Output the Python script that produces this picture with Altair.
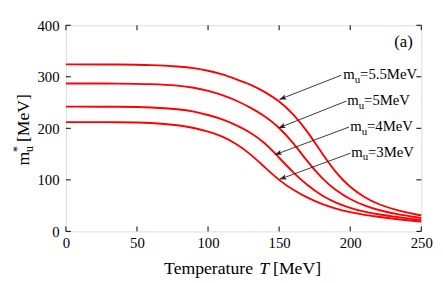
import math
import altair as alt
import pandas as pd

# ---------------- data ----------------
T_GRID = [0, 40, 60, 80, 90, 100, 110, 120, 130, 140, 150, 160, 170, 180, 190, 200, 210, 220, 235, 250]
M_55 = [324, 324, 323, 320, 317, 312, 305, 295, 285, 271, 253, 228, 194, 152, 113, 85, 66, 52, 39, 31]
M_5 = [287, 287, 286, 283, 279, 273, 265, 254, 240, 224, 202, 172, 135, 103, 79, 62, 50, 41, 32, 26]
M_4 = [242, 242, 241, 237, 233, 226, 218, 206, 192, 172, 143, 114, 89, 69, 55, 45, 38, 33, 27, 22]
M_3 = [212, 212, 211, 206, 201, 194, 185, 170, 150, 124, 99, 80, 65, 53, 44, 37, 32, 28, 23, 19]
SERIES = ["5.5MeV", "5MeV", "4MeV", "3MeV"]

X_TICKS = [0, 50, 100, 150, 200, 250]
Y_TICKS = [0, 100, 200, 300, 400]

LABEL_T = [195.1, 197.9, 200.0, 200.7]
LABEL_V = [295.2, 245.7, 194.9, 145.3]
ARROW_START_T = [193.7, 197.4, 199.2, 200.2]
ARROW_START_V = [303, 253, 202.5, 151.8]
ARROW_END_T = [150.2, 149.6, 147.0, 150.3]
ARROW_END_V = [256, 200.6, 148.6, 101]

PANEL_TAG = "(a)"
PANEL_T = [244.0]
PANEL_V = [358]

# ---------------- layout ----------------
W, H = 362, 210
XMAX, YMAX = 250, 400
FONT = "Liberation Serif"

rows = []
for name, vals in zip(SERIES, [M_55, M_5, M_4, M_3]):
    for t, v in zip(T_GRID, vals):
        rows.append({"series": name, "T": t, "m": v})
curves_df = pd.DataFrame(rows)

xs = alt.Scale(domain=[0, XMAX], nice=False, zero=False)
ys = alt.Scale(domain=[0, YMAX], nice=False, zero=False)

curves = alt.Chart(curves_df).mark_line(
    color="#ff0000", strokeWidth=1.9, interpolate="basis"
).encode(
    x=alt.X("T:Q", scale=xs, axis=alt.Axis(
        values=X_TICKS, title=None, tickSize=0, domain=False, grid=False,
        labelFont=FONT, labelFontSize=15, labelColor="black", labelPadding=4,
        labelFlush=False)),
    y=alt.Y("m:Q", scale=ys, axis=alt.Axis(
        values=Y_TICKS, title=None, tickSize=0, domain=False, grid=False,
        labelFont=FONT, labelFontSize=15, labelColor="black", labelPadding=7)),
    detail="series:N",
)

# inward ticks on all four sides
xt = pd.DataFrame({"T": X_TICKS})
yt = pd.DataFrame({"m": Y_TICKS})
tick_b = alt.Chart(xt).mark_rule(color="black").encode(x=alt.X("T:Q", scale=xs), y=alt.value(H), y2=alt.value(H - 5))
tick_t = alt.Chart(xt).mark_rule(color="black").encode(x=alt.X("T:Q", scale=xs), y=alt.value(0), y2=alt.value(5))
tick_l = alt.Chart(yt).mark_rule(color="black").encode(y=alt.Y("m:Q", scale=ys), x=alt.value(0), x2=alt.value(5))
tick_r = alt.Chart(yt).mark_rule(color="black").encode(y=alt.Y("m:Q", scale=ys), x=alt.value(W), x2=alt.value(W - 5))

# arrows
angles = []
for st, sv, et, ev in zip(ARROW_START_T, ARROW_START_V, ARROW_END_T, ARROW_END_V):
    dx = (et - st) * W / XMAX
    dy = -(ev - sv) * H / YMAX
    angles.append(math.degrees(math.atan2(dx, -dy)) % 360)

arr_df = pd.DataFrame({
    "t0": ARROW_START_T, "v0": ARROW_START_V,
    "t1": ARROW_END_T, "v1": ARROW_END_V, "ang": angles,
})
arrow_lines = alt.Chart(arr_df).mark_rule(color="#222222", strokeWidth=0.9).encode(
    x=alt.X("t0:Q", scale=xs), y=alt.Y("v0:Q", scale=ys),
    x2="t1:Q", y2="v1:Q",
)
arrow_heads = alt.Chart(arr_df).mark_point(
    shape="M0,0 L-0.38,1 L0,0.8 L0.38,1 Z", filled=True, color="#222222",
    size=196, opacity=1,
).encode(
    x=alt.X("t1:Q", scale=xs), y=alt.Y("v1:Q", scale=ys),
    angle=alt.Angle("ang:Q", scale=None),
)

lab_df = pd.DataFrame({"T": LABEL_T, "v": LABEL_V, "txt": ["=" + s for s in SERIES]})
lab_m = alt.Chart(lab_df).mark_text(
    text="m", font=FONT, fontSize=15, align="left", baseline="alphabetic", color="black"
).encode(x=alt.X("T:Q", scale=xs), y=alt.Y("v:Q", scale=ys))
lab_u = alt.Chart(lab_df).mark_text(
    text="u", font=FONT, fontSize=11, align="left", baseline="alphabetic", color="black",
    dx=11.7, dy=4,
).encode(x=alt.X("T:Q", scale=xs), y=alt.Y("v:Q", scale=ys))
lab_rest = alt.Chart(lab_df).mark_text(
    font=FONT, fontSize=15, align="left", baseline="alphabetic", color="black", dx=17.2,
).encode(x=alt.X("T:Q", scale=xs), y=alt.Y("v:Q", scale=ys), text="txt:N")

panel = alt.Chart(pd.DataFrame({"T": PANEL_T, "v": PANEL_V, "txt": [PANEL_TAG]})).mark_text(
    font=FONT, fontSize=17, align="right", baseline="alphabetic", color="black"
).encode(x=alt.X("T:Q", scale=xs), y=alt.Y("v:Q", scale=ys), text="txt:N")

# axis titles built from pieces (italic T, sub/superscripts)
def piece(txt, x, y, size, style="normal", angle=0, align="left"):
    return alt.Chart(pd.DataFrame({"txt": [txt]})).mark_text(
        font=FONT, fontSize=size, fontStyle=style, align=align, baseline="alphabetic",
        color="black", angle=angle,
    ).encode(x=alt.value(x), y=alt.value(y), text="txt:N")

xtitle = [
    piece("Temperature", 100, 253, 18),
    piece("T", 197, 253, 18, style="italic"),
    piece("[MeV]", 211, 253, 18),
]
ytitle = [
    piece("m", -38, 143, 18, angle=270),
    piece("*", -46, 129, 12, angle=270),
    piece("u", -34, 129, 12, angle=270),
    piece("[MeV]", -38, 119, 18, angle=270),
]

chart = alt.layer(
    curves, tick_b, tick_t, tick_l, tick_r, arrow_lines, arrow_heads,
    lab_m, lab_u, lab_rest, panel, *xtitle, *ytitle,
).properties(
    width=W, height=H,
    autosize=alt.AutoSizeParams(type="none"),
    padding={"left": 59, "top": 15, "right": 14, "bottom": 50},
).configure_view(stroke="black", strokeWidth=1).configure(background="white")

chart.save("out.html", embed_options={"renderer": "svg", "actions": False})
